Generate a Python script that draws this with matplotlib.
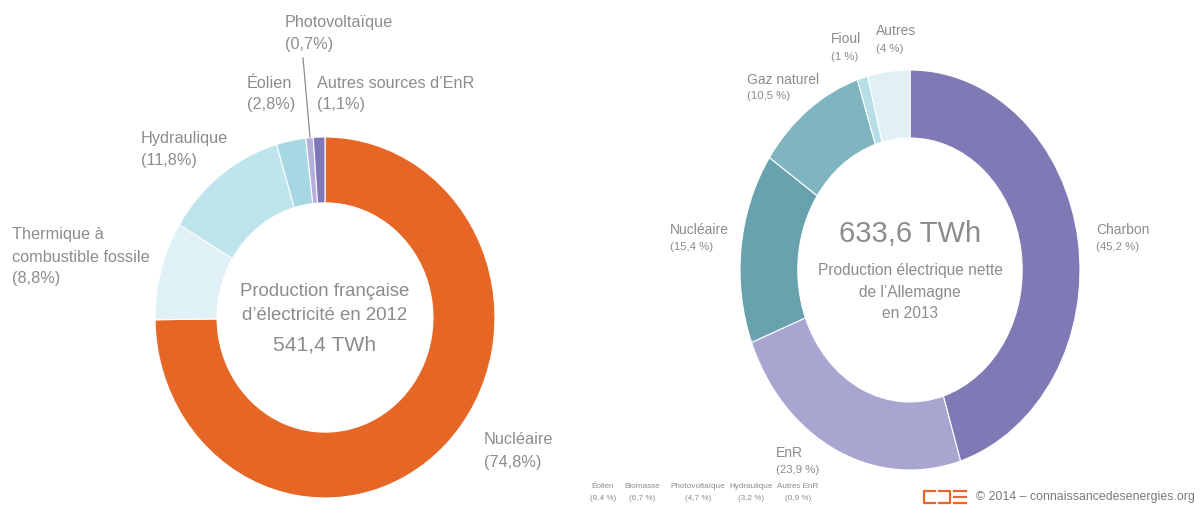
import matplotlib
matplotlib.use('Agg')
import matplotlib.pyplot as plt
from matplotlib.lines import Line2D

# ---- data ----
fr_names = ['Nucléaire', 'Thermique à\ncombustible fossile', 'Hydraulique',
            'Éolien', 'Photovoltaïque', 'Autres sources d’EnR']
fr_values = [74.8, 8.8, 11.8, 2.8, 0.7, 1.1]
fr_pct = ['(74,8%)', '(8,8%)', '(11,8%)', '(2,8%)', '(0,7%)', '(1,1%)']
fr_colors = ['#E66725', '#DFF1F6', '#BEE4EC', '#A5D8E3', '#B4AEDA', '#7E77B8']

de_names = ['Charbon', 'EnR', 'Nucléaire', 'Gaz naturel', 'Fioul', 'Autres']
de_values = [45.2, 23.9, 15.4, 10.5, 1.0, 4.0]
de_pct = ['(45,2 %)', '(23,9 %)', '(15,4 %)', '(10,5 %)', '(1 %)', '(4 %)']
de_colors = ['#7F79B5', '#A9A5D1', '#68A2AF', '#7FB4C1', '#B6DEE7', '#E0F0F5']

enr_names = ['Éolien', 'Biomasse', 'Photovoltaïque', 'Hydraulique', 'Autres EnR']
enr_pct = ['(8,4 %)', '(6,7 %)', '(4,7 %)', '(3,2 %)', '(0,9 %)']

W, H = 1203, 505
FONT = ['Liberation Sans', 'DejaVu Sans']
GRAY = '#8C8C8C'
plt.rcParams['font.family'] = FONT

fig = plt.figure(figsize=(W / 100, H / 100), dpi=100)
fig.patch.set_facecolor('white')


def fx(px):
    return px / W


def fy(py):
    return 1 - py / H


def txt(x, y, s, size, ha='left', color=GRAY, **kw):
    fig.text(fx(x), fy(y), s, fontsize=size, ha=ha, va='center', color=color, **kw)


# ---- left donut ----
axl = fig.add_axes([fx(155), fy(498), fx(495) - fx(155), fy(137) - fy(498)])
axl.pie(fr_values, colors=fr_colors, startangle=90, counterclock=False, radius=1,
        wedgeprops=dict(width=0.365, edgecolor='white', linewidth=0.8))
axl.set_aspect('auto')
axl.set_xlim(-1, 1)
axl.set_ylim(-1, 1)
axl.axis('off')

# ---- right donut ----
axr = fig.add_axes([fx(740), fy(470), fx(1080) - fx(740), fy(70) - fy(470)])
axr.pie(de_values, colors=de_colors, startangle=90, counterclock=False, radius=1,
        wedgeprops=dict(width=0.34, edgecolor='white', linewidth=0.8))
axr.set_aspect('auto')
axr.set_xlim(-1, 1)
axr.set_ylim(-1, 1)
axr.axis('off')

# ---- left labels ----
LS = 11.7
# (name index, x, y of name first line)
txt(484, 440, fr_names[0], LS); txt(484, 462, fr_pct[0], LS)
txt(12, 235, 'Thermique à', LS); txt(12, 257, 'combustible fossile', LS); txt(12, 278, fr_pct[1], LS)
txt(141, 138, fr_names[2], LS); txt(141, 160, fr_pct[2], LS)
txt(247, 83, fr_names[3], LS); txt(247, 105, fr_pct[3], LS)
txt(285, 23, fr_names[4], LS); txt(285, 45, fr_pct[4], LS)
txt(317, 83, fr_names[5], LS); txt(317, 105, fr_pct[5], LS)
fig.add_artist(Line2D([fx(303), fx(310)], [fy(58), fy(137)], color='#8C8C8C', lw=0.9))

txt(325, 292, 'Production française', 13.4, ha='center')
txt(325, 315, 'd’électricité en 2012', 13.4, ha='center')
txt(325, 345, '541,4 TWh', 15.2, ha='center')

# ---- right labels ----
NS, PS = 10.0, 8.2
txt(1096, 230, de_names[0], NS); txt(1096, 247, de_pct[0], PS)
txt(776, 453, de_names[1], NS); txt(776, 470, de_pct[1], PS)
txt(670, 230, de_names[2], NS); txt(670, 247, de_pct[2], PS)
txt(747, 80, de_names[3], NS); txt(747, 96, de_pct[3], PS)
txt(831, 39, de_names[4], NS); txt(831, 57, de_pct[4], PS)
txt(876, 31, de_names[5], NS); txt(876, 49, de_pct[5], PS)

txt(910, 234, '633,6 TWh', 21, ha='center')
txt(910, 270, 'Production électrique nette', 11.2, ha='center')
txt(910, 292, 'de l’Allemagne', 11.2, ha='center')
txt(910, 313, 'en 2013', 11.2, ha='center')

# ---- EnR breakdown ----
enr_x = [603, 642, 698, 751, 798]
for xc, n, p in zip(enr_x, enr_names, enr_pct):
    txt(xc, 487, n, 5.9, ha='center')
    txt(xc, 499, p, 5.9, ha='center')

# ---- footer logo and credit ----
OR = '#E8662A'
lw = 1.6
# left bracket [
fig.add_artist(Line2D([fx(935), fx(924), fx(924), fx(935)], [fy(491), fy(491), fy(503), fy(503)], color=OR, lw=lw))
# right bracket ]
fig.add_artist(Line2D([fx(939), fx(950), fx(950), fx(939)], [fy(491), fy(491), fy(503), fy(503)], color=OR, lw=lw))
# three bars
for yy in (491, 497, 503):
    fig.add_artist(Line2D([fx(954), fx(966)], [fy(yy), fy(yy)], color=OR, lw=lw))
txt(976, 497, '© 2014 – connaissancedesenergies.org', 8.9, color='#7A7A7A')

fig.savefig('out.png', dpi=100, facecolor='white')
